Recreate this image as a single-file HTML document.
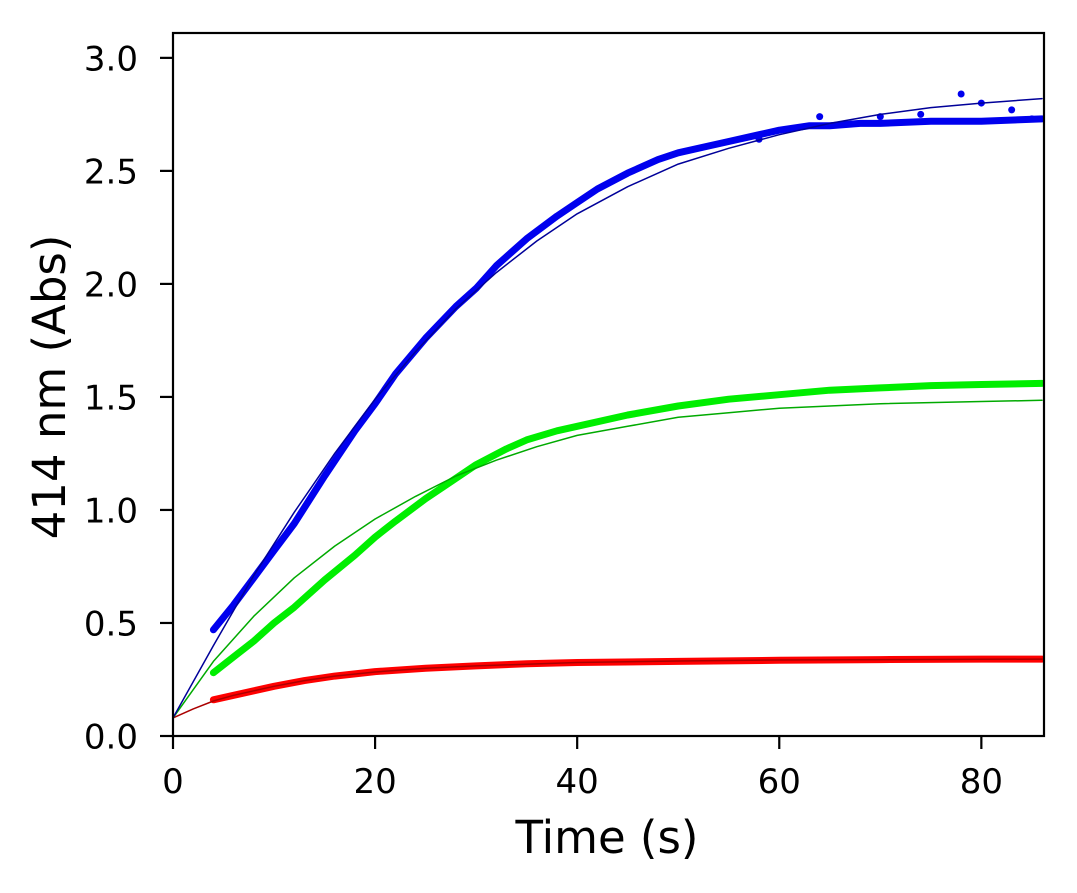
<!DOCTYPE html>
<html><head><meta charset="utf-8">
<style>
html,body{margin:0;padding:0;background:#fff;}
svg{display:block;font-family:"DejaVu Sans","Liberation Sans",sans-serif;}
</style></head>
<body>
<svg id="chart" width="1077" height="893" viewBox="0 0 1077 893"></svg>
<script>
const xTicks=[0,20,40,60,80];
const yTicks=[0.0,0.5,1.0,1.5,2.0,2.5,3.0];
const yTickLabels=["0.0","0.5","1.0","1.5","2.0","2.5","3.0"];
const blueT=[4,6,8,10,12,15,18,20,22,25,28,30,32,35,38,40,42,45,48,50,53,55,58,60,63,65,68,70,75,80,86];
const blueV=[0.47,0.58,0.70,0.82,0.94,1.15,1.35,1.47,1.60,1.76,1.90,1.98,2.08,2.20,2.30,2.36,2.42,2.49,2.55,2.58,2.61,2.63,2.66,2.68,2.70,2.70,2.71,2.71,2.72,2.72,2.73];
const blueOutT=[58,64,70,74,78,80,83,85];
const blueOutV=[2.64,2.74,2.74,2.75,2.84,2.80,2.77,2.73];
const blueFitT=[0,4,8,12,16,20,24,28,32,36,40,45,50,55,60,65,70,75,80,86];
const blueFitV=[0.08,0.40,0.71,0.99,1.25,1.49,1.70,1.89,2.05,2.19,2.31,2.43,2.53,2.60,2.66,2.71,2.75,2.78,2.80,2.82];
const greenT=[4,6,8,10,12,15,18,20,22,25,28,30,33,35,38,40,45,50,55,60,65,70,75,80,86];
const greenV=[0.28,0.35,0.42,0.50,0.57,0.69,0.80,0.88,0.95,1.05,1.14,1.20,1.27,1.31,1.35,1.37,1.42,1.46,1.49,1.51,1.53,1.54,1.55,1.555,1.56];
const greenFitT=[0,4,8,12,16,20,24,28,32,36,40,45,50,55,60,70,80,86];
const greenFitV=[0.08,0.33,0.53,0.70,0.84,0.96,1.06,1.15,1.22,1.28,1.33,1.37,1.41,1.43,1.45,1.47,1.48,1.485];
const redT=[4,6,8,10,13,16,20,25,30,35,40,50,60,70,80,86];
const redV=[0.16,0.18,0.20,0.22,0.245,0.265,0.285,0.30,0.31,0.32,0.325,0.33,0.335,0.338,0.34,0.34];
const redFitT=[0,2,4,6,8,10,13,16,20,25,30,40,50,60,86];
const redFitV=[0.08,0.12,0.155,0.18,0.20,0.22,0.245,0.265,0.283,0.30,0.31,0.325,0.332,0.336,0.34];

const L=173,R=1044,T=33,B=736,xMax=86.2,yMax=3.11;
const X=v=>L+(v/xMax)*(R-L);
const Y=v=>B-(v/yMax)*(B-T);
const NS="http://www.w3.org/2000/svg";
const svg=document.getElementById('chart');
function mk(tag,attrs,parent){const e=document.createElementNS(NS,tag);for(const k in attrs)e.setAttribute(k,attrs[k]);(parent||svg).appendChild(e);return e;}
function pts(ts,vs){return ts.map((t,i)=>X(t).toFixed(1)+','+Y(vs[i]).toFixed(1)).join(' ');}

const clip=mk('clipPath',{id:'pc'});mk('rect',{x:L,y:T,width:R-L,height:B-T},clip);
const g=mk('g',{'clip-path':'url(#pc)'});



function series(ts,vs,color,w,name){const p=mk('polyline',{points:pts(ts,vs),fill:'none',stroke:color,'stroke-width':w,'stroke-linejoin':'round','stroke-linecap':'round'},g);

}
series(redT,redV,'#ff0000',7,'red-data');
series(greenT,greenV,'#00ee00',7,'green-data');
series(blueT,blueV,'#0000ee',7,'blue-data');
blueOutT.forEach((t,i)=>{const c=mk('circle',{cx:X(t),cy:Y(blueOutV[i]),r:3.5,fill:'#0000ee'},g);

});
series(redFitT,redFitV,'#aa0000',1.5,'red-fit');
series(greenFitT,greenFitV,'#00aa00',1.5,'green-fit');
series(blueFitT,blueFitV,'#000099',1.5,'blue-fit');

const frame=mk('rect',{x:L,y:T,width:R-L,height:B-T,fill:'none',stroke:'#000','stroke-width':2.2});



xTicks.forEach(v=>{mk('line',{x1:X(v),x2:X(v),y1:B,y2:B+13,stroke:'#000','stroke-width':2.2});
const t=mk('text',{x:X(v),y:793,'text-anchor':'middle','font-size':34,fill:'#000'});t.textContent=v;

});
yTicks.forEach((v,i)=>{mk('line',{x1:L-13,x2:L,y1:Y(v),y2:Y(v),stroke:'#000','stroke-width':2.2});
const t=mk('text',{x:138,y:Y(v)+12.5,'text-anchor':'end','font-size':34,fill:'#000'});t.textContent=yTickLabels[i];

});

const xt=mk('text',{x:607,y:853,'text-anchor':'middle','font-size':45,fill:'#000'});xt.textContent='Time (s)';


const yt=mk('text',{x:0,y:0,'text-anchor':'middle','font-size':45,fill:'#000',transform:'translate(65,387) rotate(-90)'});yt.textContent='414 nm (Abs)';


</script>
</body></html>
